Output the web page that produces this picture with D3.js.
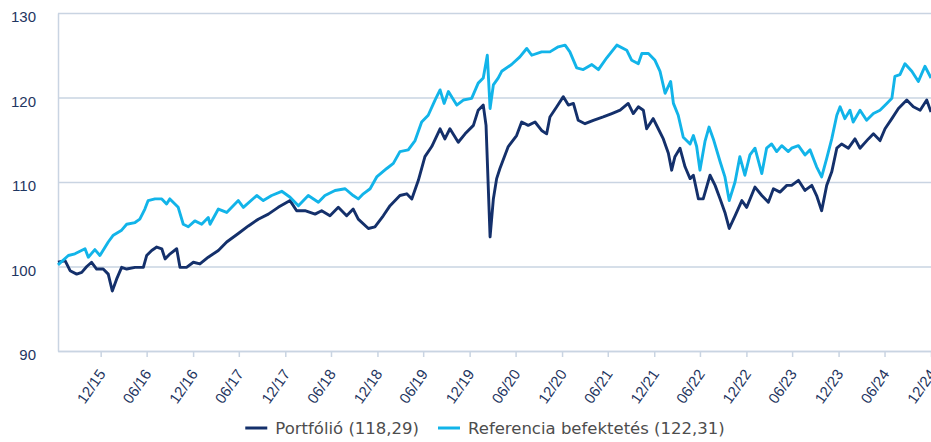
<!DOCTYPE html>
<html>
<head>
<meta charset="utf-8">
<script src="https://cdn.jsdelivr.net/npm/d3@7"></script>
<style>
  body { margin: 0; background: #fff; }
  svg { display: block; font-family: "DejaVu Sans", Verdana, sans-serif; }
</style>
</head>
<body>
<svg width="931" height="442"></svg>
<script>
// Portfólió
var portDates = ["2015-07-15","2015-08-12","2015-09-01","2015-09-27","2015-10-17","2015-11-06","2015-11-25","2015-12-15",
  "2016-01-10","2016-01-30","2016-02-15","2016-03-03","2016-03-23","2016-04-12","2016-05-15","2016-06-17","2016-06-30",
  "2016-07-20","2016-08-09","2016-08-29","2016-09-11","2016-10-01","2016-10-27","2016-11-09","2016-12-05",
  "2017-01-01","2017-01-27","2017-03-01","2017-04-10","2017-05-13","2017-06-28","2017-08-07","2017-09-15","2017-10-25","2017-12-03",
  "2018-01-19","2018-02-14","2018-03-19","2018-04-28","2018-05-24","2018-06-26","2018-07-29","2018-08-31","2018-09-26","2018-10-16","2018-11-25","2018-12-21",
  "2019-01-23","2019-02-19","2019-03-30","2019-04-26","2019-05-16","2019-06-11","2019-07-07","2019-08-03","2019-09-05","2019-09-24","2019-10-14","2019-11-16","2019-12-13",
  "2020-01-15","2020-02-03","2020-02-23","2020-03-05","2020-03-21","2020-04-03","2020-04-16","2020-04-29","2020-06-01","2020-07-04","2020-07-24","2020-08-19","2020-09-15","2020-10-11","2020-10-31","2020-11-13","2020-12-10",
  "2021-01-05","2021-01-25","2021-02-14","2021-03-05","2021-04-01","2021-05-04","2021-06-12","2021-07-16","2021-08-18","2021-09-19","2021-10-09","2021-10-29","2021-11-18","2021-12-01","2021-12-27",
  "2022-01-16","2022-02-05","2022-02-25","2022-03-10","2022-03-23","2022-04-12","2022-05-02","2022-05-22","2022-06-04","2022-06-24","2022-07-13","2022-08-09","2022-08-29","2022-09-18","2022-10-07","2022-10-24","2022-11-16","2022-12-13",
  "2023-01-01","2023-02-03","2023-03-02","2023-03-28","2023-04-17","2023-05-13","2023-06-09","2023-06-28","2023-07-25","2023-08-20","2023-09-16","2023-10-05","2023-10-25","2023-11-14","2023-12-04","2023-12-24",
  "2024-01-12","2024-02-08","2024-03-05","2024-03-25","2024-04-27","2024-05-17","2024-06-12","2024-07-02","2024-07-29","2024-08-24","2024-09-26","2024-10-22","2024-11-18","2024-12-14","2024-12-31"];
var portValues = [100.5,100.7,99.5,99.1,99.3,100.0,100.5,99.7,
  99.7,99.1,97.1,98.5,99.9,99.7,99.9,99.9,101.3,
  101.9,102.3,102.1,100.9,101.5,102.1,99.9,99.9,
  100.5,100.3,101.1,101.9,102.9,103.9,104.8,105.6,106.2,107.0,
  107.8,106.6,106.6,106.2,106.6,106.0,107.0,106.0,106.8,105.6,104.5,104.7,
  106.0,107.2,108.4,108.6,108.0,110.2,113.0,114.2,116.3,115.1,116.3,114.7,115.7,
  116.7,118.5,119.1,116.7,103.5,108.0,110.4,111.6,114.2,115.5,117.1,116.7,117.1,116.1,115.7,117.7,118.9,
  120.1,119.1,119.3,117.3,116.9,117.3,117.7,118.1,118.5,119.3,118.1,118.9,118.5,116.3,117.5,
  116.3,115.1,113.4,111.4,113.0,114.0,111.8,110.4,110.8,108.0,108.0,110.8,109.6,108.0,106.4,104.5,106.0,107.8,
  107.0,109.4,108.4,107.6,109.2,108.8,109.6,109.6,110.2,109.0,109.6,108.4,106.6,109.6,111.2,114.0,
  114.5,114.0,115.1,114.0,115.1,115.7,114.9,116.3,117.5,118.7,119.7,118.9,118.5,119.7,118.29];

// Referencia befektetés
var refDates = ["2015-07-15","2015-08-25","2015-09-20","2015-10-30","2015-11-12","2015-12-08","2015-12-28",
  "2016-01-30","2016-02-19","2016-03-23","2016-04-12","2016-05-15","2016-06-03","2016-06-23","2016-07-06","2016-08-02","2016-08-29","2016-09-17","2016-09-30","2016-11-02","2016-11-22","2016-12-12",
  "2017-01-07","2017-02-03","2017-03-01","2017-03-08","2017-04-10","2017-05-13","2017-06-28","2017-07-18","2017-09-09","2017-10-05","2017-11-07","2017-12-17",
  "2018-01-19","2018-02-21","2018-04-01","2018-05-11","2018-06-06","2018-07-16","2018-08-25","2018-09-26","2018-10-16","2018-11-05","2018-12-02","2018-12-28",
  "2019-02-06","2019-03-04","2019-03-30","2019-05-02","2019-05-29","2019-06-24","2019-07-20","2019-08-16","2019-09-05","2019-09-21","2019-10-08","2019-11-10","2019-12-06",
  "2020-01-08","2020-02-03","2020-02-23","2020-03-10","2020-03-21","2020-04-03","2020-04-22","2020-05-06","2020-06-14","2020-07-17","2020-08-13","2020-09-02","2020-10-11","2020-11-13","2020-12-16",
  "2021-01-12","2021-01-31","2021-02-27","2021-03-25","2021-04-28","2021-05-24","2021-06-26","2021-08-05","2021-09-13","2021-10-03","2021-10-29","2021-11-12","2021-12-08",
  "2022-01-03","2022-01-23","2022-02-12","2022-03-06","2022-03-17","2022-04-05","2022-04-25","2022-05-22","2022-06-04","2022-06-17","2022-06-30","2022-07-20","2022-08-05","2022-08-22","2022-09-18","2022-10-07","2022-10-24","2022-11-16","2022-12-05","2022-12-25",
  "2023-01-14","2023-02-03","2023-03-02","2023-03-21","2023-04-10","2023-04-30","2023-05-20","2023-06-15","2023-06-28","2023-07-25","2023-08-20","2023-09-09","2023-10-05","2023-10-25","2023-11-14","2023-12-04","2023-12-24",
  "2024-01-06","2024-01-25","2024-02-14","2024-02-27","2024-03-25","2024-04-20","2024-05-17","2024-06-12","2024-07-09","2024-07-29","2024-08-10","2024-08-30","2024-09-19","2024-10-16","2024-11-11","2024-12-07","2024-12-31"];
var refValues = [100.2,101.3,101.5,102.1,101.1,102.0,101.3,
  102.9,103.7,104.3,105.0,105.2,105.6,106.8,107.8,108.0,108.0,107.4,108.0,107.0,105.0,104.7,
  105.4,105.0,105.8,105.0,106.8,106.4,107.8,107.0,108.4,107.8,108.4,108.9,
  108.2,107.2,108.4,107.6,108.4,109.0,109.2,108.4,108.0,108.6,109.2,110.6,
  111.6,112.2,113.6,113.8,114.9,117.1,117.9,119.7,120.9,119.3,120.7,119.1,119.7,
  119.9,121.7,122.3,125.0,118.7,121.5,122.3,123.1,123.9,124.8,125.8,125.0,125.4,125.4,126.0,
  126.2,125.4,123.5,123.3,123.9,123.3,124.7,126.2,125.6,124.4,124.0,125.2,125.2,
  124.4,123.1,120.5,121.9,119.3,117.9,115.3,114.5,115.5,114.2,111.4,114.8,116.5,115.1,112.4,110.6,107.8,110.0,113.0,110.8,
  113.2,114.0,111.0,114.0,114.5,113.6,114.3,113.6,114.0,114.3,113.2,113.8,111.8,110.6,112.8,115.1,117.9,
  118.9,117.5,118.5,117.1,118.5,117.3,118.1,118.5,119.3,119.9,122.5,122.7,124.0,123.1,121.9,123.7,122.31];

var seriesNames = ["Portfólió (118,29)", "Referencia befektetés (122,31)"];
var seriesColors = ["#14306b", "#12b4e9"];
var yTicks = [90, 100, 110, 120, 130];
var tickDates = ["2015-12-31","2016-06-30","2016-12-31","2017-06-30","2017-12-31","2018-06-30","2018-12-31",
  "2019-06-30","2019-12-31","2020-06-30","2020-12-31","2021-06-30","2021-12-31","2022-06-30","2022-12-31",
  "2023-06-30","2023-12-31","2024-06-30","2024-12-31"];

var parseDate = d3.timeParse("%Y-%m-%d");

var svg = d3.select("svg"),
    plot = {left: 58, right: 931, top: 13, bottom: 351},
    gridColor = "#c9d4e2",
    labelColor = "#1f3661";

var x = d3.scaleTime()
    .domain([parseDate("2015-07-15"), parseDate("2024-12-31")])
    .range([plot.left, plot.right]);
var y = d3.scaleLinear().domain([90, 130]).range([plot.bottom, plot.top]);

// y axis + gridlines
var yAxis = svg.append("g")
    .attr("transform", "translate(" + plot.left + ",0)")
    .call(d3.axisLeft(y).tickValues(yTicks).tickSize(-(plot.right - plot.left)).tickSizeOuter(0).tickPadding(22));
yAxis.select(".domain").attr("stroke", gridColor).attr("stroke-width", 1.5);
yAxis.selectAll(".tick line").attr("stroke", gridColor).attr("stroke-width", 1.5);
yAxis.selectAll(".tick text")
    .attr("fill", labelColor)
    .attr("dy", "0.57em")
    .style("font-size", "15px");

// x axis
var xAxis = svg.append("g")
    .attr("transform", "translate(0," + plot.bottom + ")")
    .call(d3.axisBottom(x)
      .tickValues(tickDates.map(parseDate))
      .tickSize(6).tickSizeOuter(0)
      .tickFormat(d3.timeFormat("%m/%y")));
xAxis.select(".domain").attr("stroke", gridColor).attr("stroke-width", 1.5);
xAxis.selectAll(".tick line").attr("stroke", gridColor).attr("stroke-width", 1.5);
xAxis.selectAll(".tick text")
    .attr("fill", labelColor)
    .attr("x", null).attr("y", null).attr("dy", null)
    .attr("text-anchor", "end")
    .attr("transform", "translate(5,23) rotate(-55)")
    .style("font-size", "15px");

var line = d3.line()
    .x(function(d) { return x(d.date); })
    .y(function(d) { return y(d.value); });

var series = [
  portDates.map(function(d, i) { return {date: parseDate(d), value: portValues[i]}; }),
  refDates.map(function(d, i) { return {date: parseDate(d), value: refValues[i]}; })
];

svg.selectAll(".series")
    .data(series)
  .enter().append("path")
    .attr("class", "series")
    .attr("d", line)
    .attr("fill", "none")
    .attr("stroke", function(d, i) { return seriesColors[i]; })
    .attr("stroke-width", 2.9)
    .attr("stroke-linejoin", "round");

// legend
var legend = svg.append("g");
var items = legend.selectAll("g")
    .data(seriesNames)
  .enter().append("g");
items.append("line")
    .attr("x1", 0).attr("x2", 22)
    .attr("y1", 428).attr("y2", 428)
    .attr("stroke", function(d, i) { return seriesColors[i]; })
    .attr("stroke-width", 3);
items.append("text")
    .attr("x", 30).attr("y", 434)
    .attr("fill", "#4d4d4d")
    .style("font-size", "16.5px")
    .text(function(d) { return d; });

var pos = 0;
items.each(function() {
  var w = 30 + this.querySelector("text").getComputedTextLength();
  d3.select(this).attr("data-x", pos);
  pos += w + 19;
});
var total = pos - 19;
var start = 485 - total / 2;
items.attr("transform", function() { return "translate(" + (start + +this.getAttribute("data-x")) + ",0)"; });
</script>
</body>
</html>
